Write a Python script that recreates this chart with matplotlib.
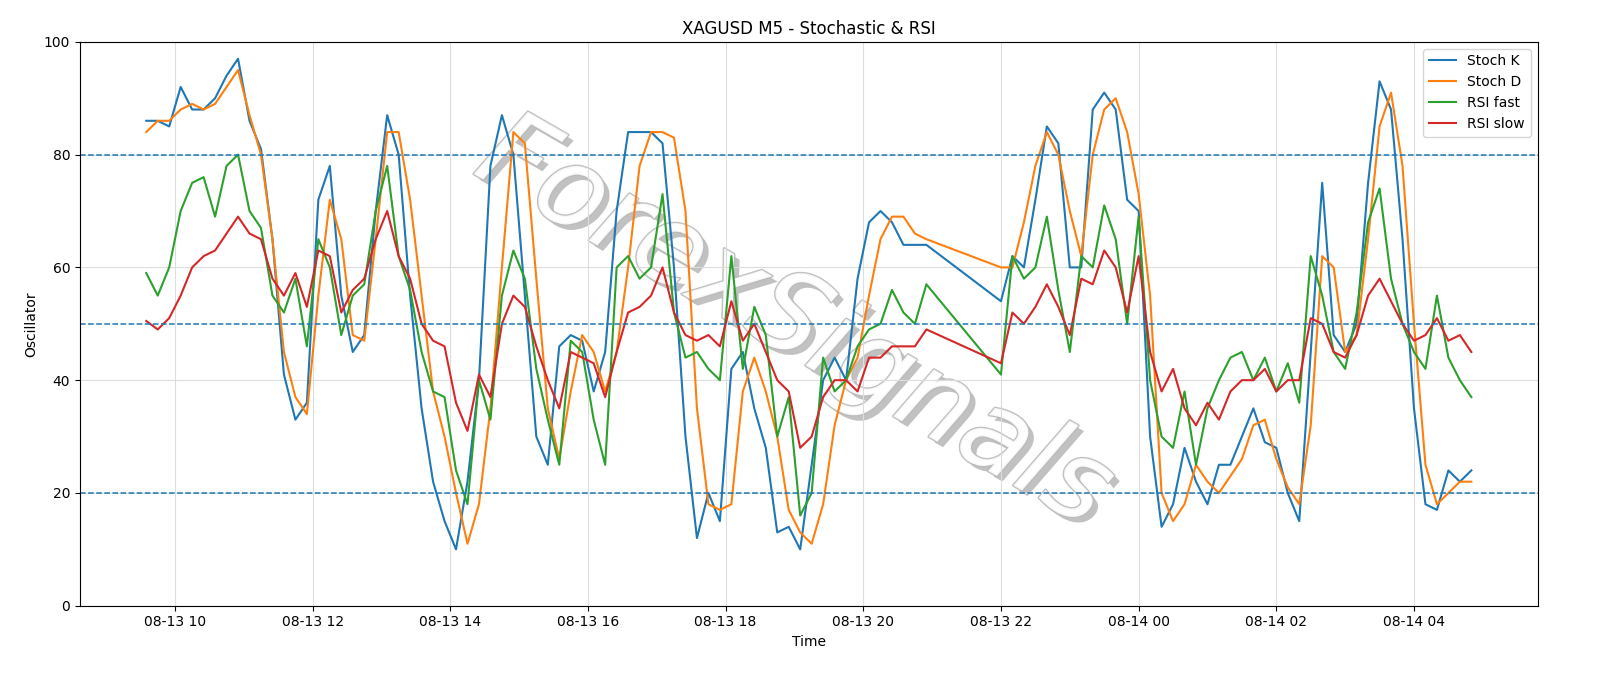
import pandas as pd
import matplotlib
matplotlib.use("Agg")
import matplotlib.pyplot as plt
import matplotlib.dates as mdates
import matplotlib.patheffects as pe

# 10-minute samples; session gap between 20:55 and 22:00
times_a = pd.date_range("2024-08-13 09:35", "2024-08-13 20:55", freq="10min")
times_b = pd.date_range("2024-08-13 22:00", "2024-08-14 04:50", freq="10min")
times = times_a.append(times_b)

stoch_k = [86, 86, 85, 92, 88, 88, 90, 94, 97,
           86, 81, 65, 41, 33, 36,
           72, 78, 55, 45, 48, 70,
           87, 80, 55, 35, 22, 15,
           10, 22, 40, 78, 87, 80,
           55, 30, 25, 46, 48, 47,
           38, 45, 70, 84, 84, 84,
           82, 60, 30, 12, 20, 15,
           42, 45, 35, 28, 13, 14,
           10, 25, 40, 44, 40, 58,
           68, 70, 68, 64, 64, 64,
           54, 62, 60, 72, 85, 82,
           60, 60, 88, 91, 88, 72,
           70, 30, 14, 18, 28, 22,
           18, 25, 25, 30, 35, 29,
           28, 20, 15, 45, 75, 48,
           45, 50, 75, 93, 88, 65,
           35, 18, 17, 24, 22, 24]
stoch_d = [84, 86, 86, 88, 89, 88, 89, 92, 95,
           87, 80, 65, 45, 37, 34,
           55, 72, 65, 48, 47, 65,
           84, 84, 72, 55, 38, 30,
           20, 11, 18, 35, 60, 84,
           82, 58, 35, 26, 38, 48,
           45, 38, 45, 60, 78, 84,
           84, 83, 70, 35, 18, 17,
           18, 38, 44, 38, 30, 17,
           13, 11, 18, 32, 40, 44,
           55, 65, 69, 69, 66, 65,
           60, 60, 68, 78, 84, 80,
           70, 62, 80, 88, 90, 84,
           73, 55, 20, 15, 18, 25,
           22, 20, 23, 26, 32, 33,
           26, 21, 18, 32, 62, 60,
           45, 48, 65, 85, 91, 78,
           50, 25, 18, 20, 22, 22]
rsi_fast = [59, 55, 60, 70, 75, 76, 69, 78, 80,
            70, 67, 55, 52, 58, 46,
            65, 60, 48, 55, 57, 70,
            78, 62, 56, 45, 38, 37,
            24, 18, 40, 33, 55, 63,
            58, 42, 33, 25, 47, 45,
            33, 25, 60, 62, 58, 60,
            73, 52, 44, 45, 42, 40,
            62, 42, 53, 48, 30, 37,
            16, 20, 44, 38, 40, 46,
            49, 50, 56, 52, 50, 57,
            41, 62, 58, 60, 69, 56,
            45, 62, 60, 71, 65, 50,
            69, 40, 30, 28, 38, 25,
            35, 40, 44, 45, 40, 44,
            38, 43, 36, 62, 55, 45,
            42, 52, 68, 74, 58, 50,
            45, 42, 55, 44, 40, 37]
rsi_slow = [50.5, 49, 51, 55, 60, 62, 63, 66, 69,
            66, 65, 58, 55, 59, 53,
            63, 62, 52, 56, 58, 65,
            70, 62, 58, 50, 47, 46,
            36, 31, 41, 37, 50, 55,
            53, 46, 40, 35, 45, 44,
            43, 37, 45, 52, 53, 55,
            60, 52, 48, 47, 48, 46,
            54, 47, 50, 45, 40, 38,
            28, 30, 37, 40, 40, 38,
            44, 44, 46, 46, 46, 49,
            43, 52, 50, 53, 57, 53,
            48, 58, 57, 63, 60, 52,
            62, 45, 38, 42, 35, 32,
            36, 33, 38, 40, 40, 42,
            38, 40, 40, 51, 50, 45,
            44, 48, 55, 58, 54, 50,
            47, 48, 51, 47, 48, 45]

fig = plt.figure(figsize=(16, 6.86), dpi=100)
ax = fig.add_axes([0.05, 0.117, 0.911, 0.822])

ax.plot(times, stoch_k, color="#1f77b4", lw=1.5, label="Stoch K")
ax.plot(times, stoch_d, color="#ff7f0e", lw=1.5, label="Stoch D")
ax.plot(times, rsi_fast, color="#2ca02c", lw=1.5, label="RSI fast")
ax.plot(times, rsi_slow, color="#d62728", lw=1.5, label="RSI slow")

for lvl in (20, 50, 80):
    ax.axhline(lvl, color="#1f77b4", ls="--", lw=1.1)

ax.set_ylim(0, 100)
ax.xaxis.set_major_locator(mdates.HourLocator(byhour=range(0, 24, 2)))
ax.xaxis.set_major_formatter(mdates.DateFormatter("%m-%d %H"))
ax.grid(True, color="#dddddd", lw=0.8)
ax.set_axisbelow(True)
ax.tick_params(labelsize=10)
ax.set_title("XAGUSD M5 - Stochastic & RSI", fontsize=12)
ax.set_xlabel("Time", fontsize=10)
ax.set_ylabel("Oscillator", fontsize=10)
ax.legend(loc="upper right", fontsize=10)

# watermark
ax.text(0.49, 0.5, "ForexSignals", transform=ax.transAxes, fontsize=80,
        fontstyle="italic", color="white", alpha=0.9, rotation=-30,
        ha="center", va="center", zorder=0,
        path_effects=[pe.withSimplePatchShadow(offset=(4, -4), shadow_rgbFace="#999999", alpha=0.6),
                      pe.withStroke(linewidth=2, foreground="#bbbbbb")])

fig.savefig("out.png", dpi=100)
